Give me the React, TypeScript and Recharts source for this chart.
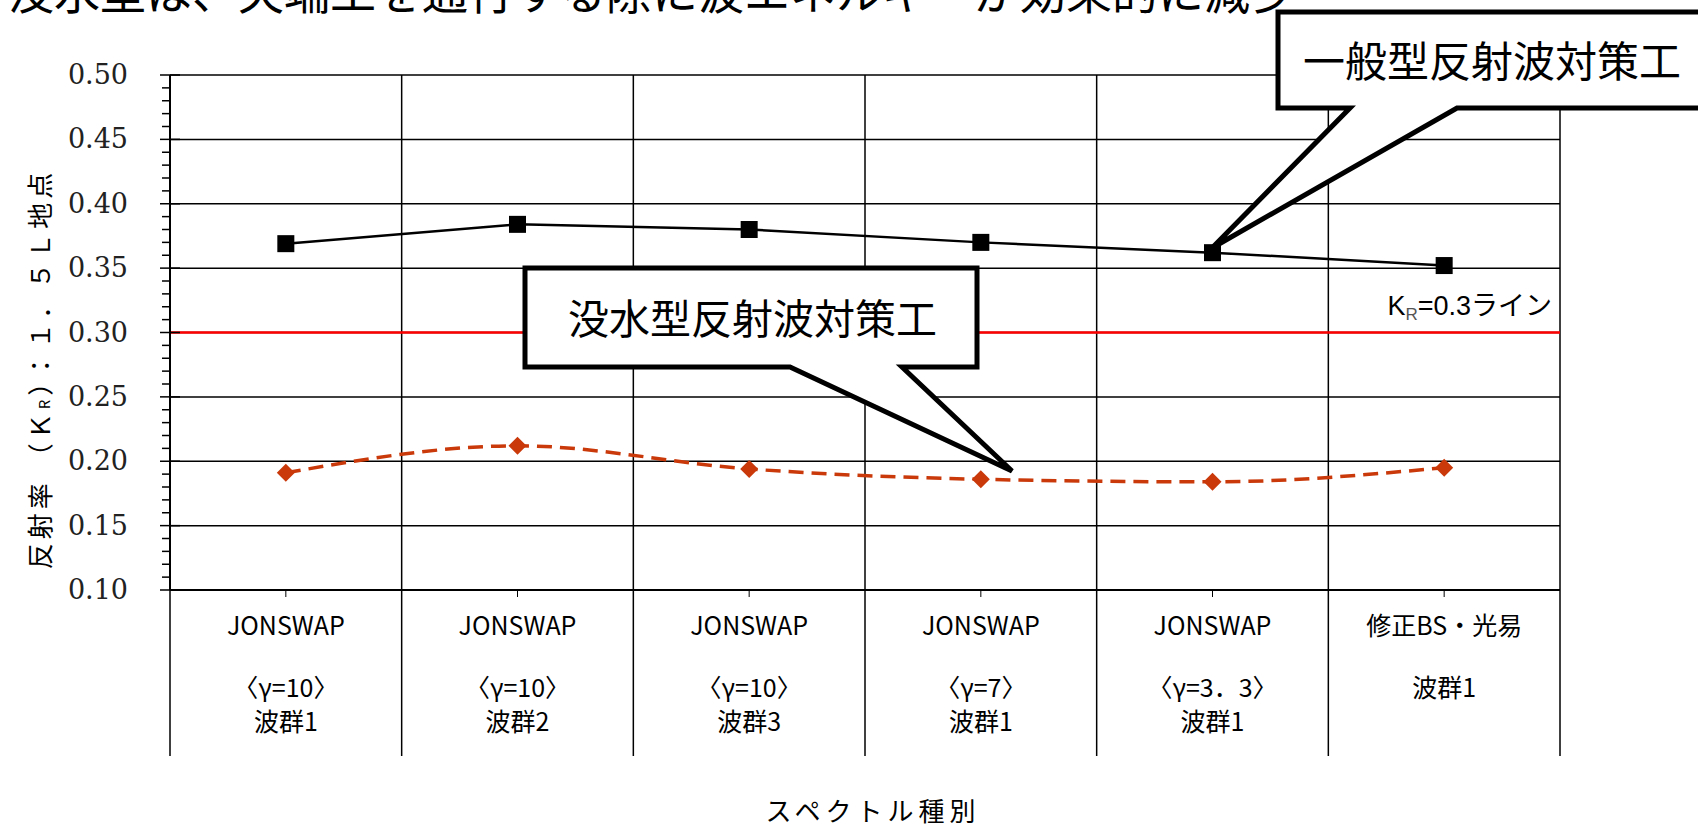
import { LineChart, Line, XAxis, YAxis, CartesianGrid, ReferenceLine } from 'recharts';

// category labels, three rows under each band
const spectrumLabels = ['JONSWAP', 'JONSWAP', 'JONSWAP', 'JONSWAP', 'JONSWAP', '修正BS・光易'];
const gammaLabels = ['〈γ=10〉', '〈γ=10〉', '〈γ=10〉', '〈γ=7〉', '〈γ=3．3〉', '波群1'];
const waveGroupLabels = ['波群1', '波群2', '波群3', '波群1', '波群1', ''];

// reflection coefficient K_R at 1.5L
const generalType = [0.369, 0.384, 0.380, 0.370, 0.362, 0.352];
const submergedType = [0.191, 0.212, 0.194, 0.186, 0.184, 0.195];

const yMajorTicks = [0.1, 0.15, 0.2, 0.25, 0.3, 0.35, 0.4, 0.45, 0.5];
const kRLine = 0.3;

const data = spectrumLabels.map((_, i) => ({
  x: i + 0.5,
  general: generalType[i],
  submerged: submergedType[i],
}));

const boundaries = spectrumLabels.map((_, i) => i).concat(spectrumLabels.length);
const xTicks = boundaries.flatMap((b) => (b < spectrumLabels.length ? [b, b + 0.5] : [b]));
const yTicks = Array.from({ length: 41 }, (_, i) => Math.round(10 + i) / 100);

const JP = '"Noto Sans CJK JP", sans-serif';
const ORANGE = '#c9390a';

const XTick = (props: any) => {
  const { x, y, payload } = props;
  const v = payload.value;
  if (Number.isInteger(v)) {
    return <line x1={x} y1={y} x2={x} y2={y + 166} stroke="#000" strokeWidth={1.5} />;
  }
  const i = Math.floor(v);
  return (
    <g>
      <line x1={x} y1={y} x2={x} y2={y + 7} stroke="#000" strokeWidth={1} />
      <text x={x} y={y + 45} textAnchor="middle" fontFamily={JP} fontSize={25} fill="#000">
        {spectrumLabels[i]}
      </text>
      <text x={x} y={y + 107} textAnchor="middle" fontFamily={JP} fontSize={25} fill="#000">
        {gammaLabels[i]}
      </text>
      <text x={x} y={y + 141} textAnchor="middle" fontFamily={JP} fontSize={25} fill="#000">
        {waveGroupLabels[i]}
      </text>
    </g>
  );
};

const YTick = (props: any) => {
  const { x, y, payload } = props;
  const v = payload.value;
  const major = Math.round(v * 100) % 5 === 0;
  if (!major) {
    return <line x1={x - 8} y1={y} x2={x} y2={y} stroke="#000" strokeWidth={1.5} />;
  }
  return (
    <g>
      <line x1={x - 10} y1={y} x2={x + 10} y2={y} stroke="#000" strokeWidth={1.5} />
      <text x={x - 42} y={y + 9} textAnchor="end" fontFamily='"DejaVu Serif", serif' fontSize={27} fill="#222">
        {v.toFixed(2)}
      </text>
    </g>
  );
};

const SquareDot = (props: any) => {
  const { cx, cy, index } = props;
  return <rect key={`sq-${index}`} x={cx - 8.5} y={cy - 8.5} width={17} height={17} fill="#000" />;
};

const DiamondDot = (props: any) => {
  const { cx, cy, index } = props;
  return (
    <polygon
      key={`dm-${index}`}
      points={`${cx},${cy - 9} ${cx + 9},${cy} ${cx},${cy + 9} ${cx - 9},${cy}`}
      fill={ORANGE}
    />
  );
};

export default function App() {
  return (
    <div style={{ position: 'absolute', left: 0, top: 0, width: 1698, height: 832, background: '#fff' }}>
      <LineChart width={1698} height={832} data={data} margin={{ top: 75, right: 138, bottom: 0, left: 0 }}>
        <CartesianGrid
          stroke="#000"
          strokeWidth={1.5}
          horizontalValues={yMajorTicks}
          verticalValues={boundaries}
        />
        <XAxis
          dataKey="x"
          type="number"
          domain={[0, spectrumLabels.length]}
          ticks={xTicks}
          interval={0}
          height={242}
          tickLine={false}
          tickSize={0}
          tickMargin={0}
          axisLine={{ stroke: '#000', strokeWidth: 2 }}
          tick={<XTick />}
        />
        <YAxis
          type="number"
          domain={[0.1, 0.5]}
          ticks={yTicks}
          interval={0}
          width={170}
          tickLine={false}
          tickSize={0}
          tickMargin={0}
          axisLine={{ stroke: '#000', strokeWidth: 2 }}
          tick={<YTick />}
          allowDataOverflow
        />
        <ReferenceLine y={kRLine} stroke="#ff0000" strokeWidth={2.5} />
        <Line
          type="linear"
          dataKey="general"
          stroke="#000"
          strokeWidth={2.5}
          dot={<SquareDot />}
          activeDot={false}
          isAnimationActive={false}
        />
        <Line
          type="monotone"
          dataKey="submerged"
          stroke={ORANGE}
          strokeWidth={3.5}
          strokeDasharray="15 8"
          dot={<DiamondDot />}
          activeDot={false}
          isAnimationActive={false}
        />
      </LineChart>

      <svg
        width={1698}
        height={832}
        style={{ position: 'absolute', left: 0, top: 0, pointerEvents: 'none' }}
      >
        {/* caption cut off at the top edge */}
        <text x={8} y={9} fontFamily={JP} fontSize={46} fill="#000">
          没水型は、天端工を通行する際に波エネルギーが効果的に減少
        </text>

        {/* K_R = 0.3 line label */}
        <text x={1552} y={315} textAnchor="end" fontFamily={`"Liberation Sans", ${JP}`} fontSize={27} fill="#000">
          K
          <tspan fontSize={17} fill="#555" dy={5}>R</tspan>
          <tspan dy={-5}>=0.3ライン</tspan>
        </text>

        {/* callout: general type */}
        <path
          d="M1278,12 H1725 V108 H1457 L1212,248 L1350,108 H1278 Z"
          fill="#fff"
          stroke="#000"
          strokeWidth={5}
        />
        <text x={1303} y={77} fontFamily={JP} fontSize={42} fill="#000">
          一般型反射波対策工
        </text>

        {/* callout: submerged type */}
        <path
          d="M525,268 H977 V367 H902 L1012,471 L790,367 H525 Z"
          fill="#fff"
          stroke="#000"
          strokeWidth={5}
        />
        <text x={568} y={334} fontFamily={JP} fontSize={41} fill="#000">
          没水型反射波対策工
        </text>

        {/* axis titles */}
        <text
          x={38}
          y={369}
          transform="rotate(-90 38 369)"
          textAnchor="middle"
          dominantBaseline="central"
          fontFamily={JP}
          fontSize={26}
          letterSpacing={4}
          fill="#000"
        >
          反射率 （Ｋ
          <tspan fontSize={15} dy={5}>R</tspan>
          <tspan dy={-5}>）：１．５Ｌ地点</tspan>
        </text>
        <text x={873} y={821} textAnchor="middle" fontFamily={JP} fontSize={26} letterSpacing={5} fill="#000">
          スペクトル種別
        </text>
      </svg>
    </div>
  );
}
